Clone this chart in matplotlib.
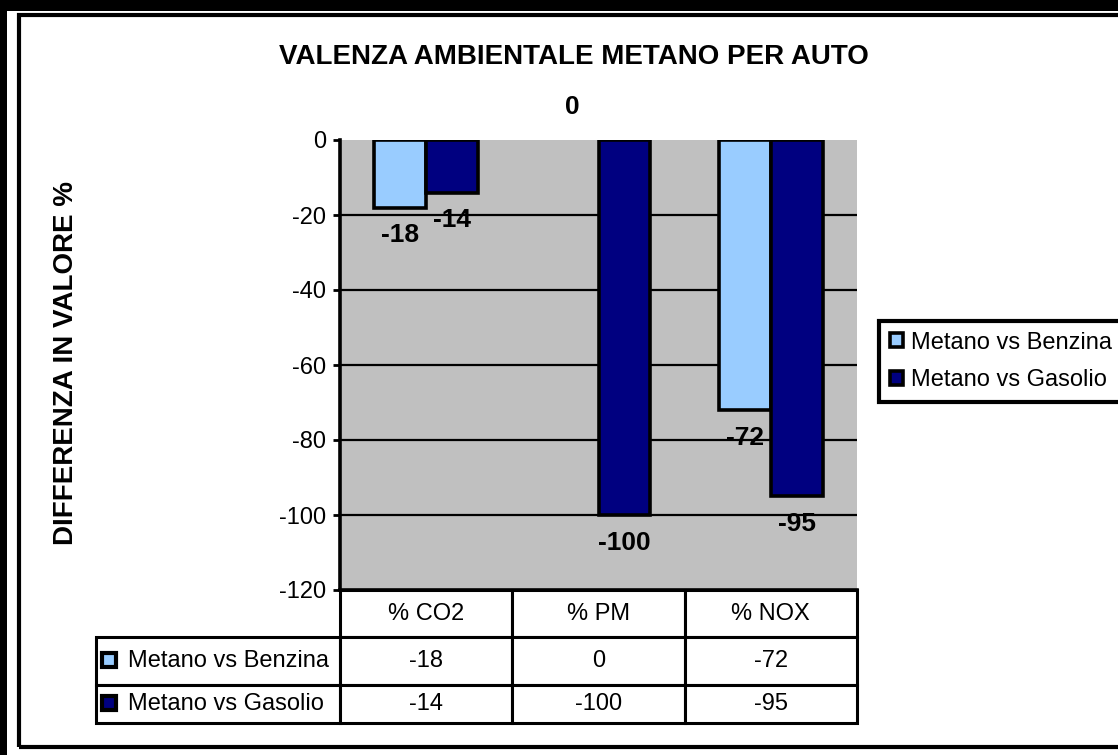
import matplotlib
matplotlib.use("Agg")
import matplotlib.pyplot as plt
from matplotlib.patches import Rectangle
from matplotlib.table import Table

# data
categories = ["% CO2", "% PM", "% NOX"]
series_names = ["Metano vs Benzina", "Metano vs Gasolio"]
benzina = [-18, 0, -72]
gasolio = [-14, -100, -95]
yticks = [0, -20, -40, -60, -80, -100, -120]

light = "#99CCFF"
navy = "#000080"

plt.rcParams["font.family"] = ["Liberation Sans", "DejaVu Sans"]
plt.rcParams["axes.unicode_minus"] = False

W, H = 1118, 755
fig = plt.figure(figsize=(W / 100, H / 100), dpi=100, facecolor="white")


def fx(px):
    return px / W


def fy(py):
    return 1 - py / H


# outer frame like the screenshot
fig.patches.append(Rectangle((0, fy(11)), 1, 11 / H, transform=fig.transFigure,
                             facecolor="black", edgecolor="none", zorder=0))
fig.patches.append(Rectangle((0, 0), fx(7), 1, transform=fig.transFigure,
                             facecolor="black", edgecolor="none", zorder=0))
fig.patches.append(Rectangle((fx(19), fy(747)), fx(1140) - fx(19), fy(15) - fy(747),
                             transform=fig.transFigure, facecolor="none",
                             edgecolor="black", lw=3, zorder=0))

ax_l, ax_r, ax_t, ax_b = 340, 857, 140, 590
ax = fig.add_axes([fx(ax_l), fy(ax_b), fx(ax_r) - fx(ax_l), (ax_b - ax_t) / H])
ax.set_facecolor("#C0C0C0")

x = list(range(len(categories)))
w = 0.3
b1 = ax.bar([i - w / 2 for i in x], benzina, w, color=light, edgecolor="black",
            lw=2.6, label=series_names[0], zorder=3)
b2 = ax.bar([i + w / 2 for i in x], gasolio, w, color=navy, edgecolor="black",
            lw=2.6, label=series_names[1], zorder=3)

for bars, vals in [(b1, benzina), (b2, gasolio)]:
    for bar, v in zip(bars, vals):
        if v == 0:
            bar.set_linewidth(0)
        off = -20 if v < 0 else 24
        ax.annotate(str(v), (bar.get_x() + bar.get_width() / 2, v),
                    xytext=(0, off), textcoords="offset points",
                    ha="center", va="center", fontsize=19, fontweight="bold",
                    annotation_clip=False, zorder=5)

for t in yticks[1:-1]:
    ax.axhline(t, color="black", lw=1.6, zorder=1)

ax.set_xlim(-0.5, len(categories) - 0.5)
ax.set_ylim(yticks[-1], yticks[0])
ax.set_yticks(yticks)
ax.set_xticks([])
ax.tick_params(axis="y", direction="out", length=5, width=2, labelsize=17, pad=5)
for s in ["top", "right"]:
    ax.spines[s].set_visible(False)
ax.spines["left"].set_linewidth(2.6)
ax.spines["bottom"].set_linewidth(2.6)

# data table under the plot (bbox covers the data columns, row labels hang left)
tab_l, tab_b = 96, 723
ax_w, ax_h = ax_r - ax_l, ax_b - ax_t
lab_w = (ax_l - tab_l) / ax_w
row_h = [h / ax_h for h in (47, 48, 38)]
tbl = Table(ax, bbox=[0, -(tab_b - ax_b) / ax_h, 1, (tab_b - ax_b) / ax_h])
tbl.auto_set_font_size(False)
for c, name in enumerate(categories):
    tbl.add_cell(0, c, 1 / 3, row_h[0], text=name, loc="center")
for r, (name, vals) in enumerate(zip(series_names, [benzina, gasolio]), start=1):
    cell = tbl.add_cell(r, -1, lab_w, row_h[r], text=name, loc="left")
    cell.PAD = 0.13
    for c, v in enumerate(vals):
        tbl.add_cell(r, c, 1 / 3, row_h[r], text=str(v), loc="center")
for cell in tbl.get_celld().values():
    cell.set_linewidth(2.2)
    cell.set_edgecolor("black")
    cell.get_text().set_fontsize(17)
ax.add_table(tbl)

# little series keys in the table row labels
for yy, col in [(660, light), (703, navy)]:
    ax.plot([(109 - ax_l) / ax_w], [(ax_b - yy) / ax_h],
            marker="s", ms=10, mfc=col, mec="black", mew=3,
            transform=ax.transAxes, clip_on=False, zorder=6)

fig.legend(handles=[b1, b2], loc="upper left",
           bbox_to_anchor=(fx(879), fy(321)), borderaxespad=0, fontsize=17,
           frameon=True, fancybox=False, edgecolor="black", framealpha=1,
           handlelength=0.55, handleheight=0.55, handletextpad=0.35,
           labelspacing=0.66, borderpad=0.45).get_frame().set_linewidth(3)

fig.text(fx(574), fy(57), "VALENZA AMBIENTALE METANO PER AUTO", ha="center",
         va="center", fontsize=20, fontweight="bold")
fig.text(fx(66), fy(363), "DIFFERENZA IN VALORE %", ha="center", va="center",
         rotation=90, fontsize=20, fontweight="bold")

fig.savefig("out.png", dpi=100, facecolor="white")
